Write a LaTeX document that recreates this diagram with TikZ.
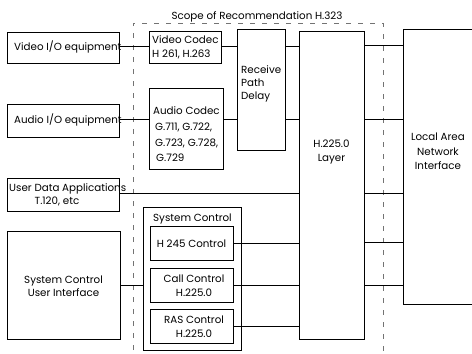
\documentclass[tikz,border=0pt]{standalone}
\usepackage{fontspec}
\setmainfont{Poppins}
\begin{document}
\begin{tikzpicture}[x=1pt,y=-1pt,
  box/.style={draw,line width=1pt,inner sep=0pt,minimum width=#1},
  conn/.style={line width=1pt},
  scope line/.style={draw=black!55,line width=0.5pt,dash pattern=on 5pt off 7pt},
  txt/.style={font=\fontsize{10.3}{12}\selectfont,inner sep=0pt},
  ltxt/.style={txt,anchor=base west},
  ctxt/.style={txt,anchor=base}]
\useasboundingbox (0,0) rectangle (472,354);
% scope of recommendation
\draw[scope line] (133,350) -- (133,23) -- (383,23) -- (383,354);
\node[ctxt] (scope) at (257,19) {Scope of Recommendation H.323};
% boxes
\node[box=112pt,minimum height=31pt] (vio) at (63,47.5) {};
\node[box=72pt,minimum height=32pt] (vcod) at (185,47) {};
\node[box=112pt,minimum height=33pt] (aio) at (63,120.5) {};
\node[box=74pt,minimum height=81pt] (acod) at (186,128.5) {};
\node[box=48pt,minimum height=121pt] (rpd) at (261,89.5) {};
\node[box=65pt,minimum height=308pt] (h225) at (331.5,185) {};
\node[box=77pt,minimum height=275pt] (lan) at (441.5,166.5) {};
\node[box=112pt,minimum height=33pt] (uda) at (63,194.5) {};
\node[box=98pt,minimum height=143pt] (sc) at (192,278.5) {};
\node[box=83pt,minimum height=34pt] (h245) at (191.5,243) {};
\node[box=83pt,minimum height=34pt] (call) at (191.5,285) {};
\node[box=83pt,minimum height=34pt] (ras) at (191.5,326) {};
\node[box=113pt,minimum height=108pt] (scui) at (63.5,285) {};
% texts
\node[ltxt] (tvio) at (14,50) {Video I/O equipment};
\node[ltxt] (tvc1) at (152,43.5) {Video Codec};
\node[ltxt] (tvc2) at (152,57) {H 261, H.263};
\node[ltxt] (taio) at (14,123) {Audio I/O equipment};
\node[ltxt] (tac1) at (153,114.5) {Audio Codec};
\node[ltxt] (tac2) at (155,130.5) {G.711, G.722,};
\node[ltxt] (tac3) at (155,146.5) {G.723, G.728,};
\node[ltxt] (tac4) at (156,161.5) {G.729};
\node[ltxt] (trp1) at (241,73.5) {Receive};
\node[ltxt] (trp2) at (241,86) {Path};
\node[ltxt] (trp3) at (241,99) {Delay};
\node[ctxt] (th1) at (331.5,147) {H.225.0};
\node[ctxt] (th2) at (331.5,161) {Layer};
\node[ctxt] (tl1) at (438,140) {Local Area};
\node[ctxt] (tl2) at (438,155) {Network};
\node[ctxt] (tl3) at (438,169) {Interface};
\node[ltxt] (tu1) at (9,191.5) {User Data Applications};
\node[ctxt] (tu2) at (57,204) {T.120, etc};
\node[ltxt] (tsc) at (153,221) {System Control};
\node[ctxt] (th245) at (191.5,247) {H 245 Control};
\node[ctxt] (tcc1) at (194,282.5) {Call Control};
\node[ctxt] (tcc2) at (194,296) {H.225.0};
\node[ctxt] (tra1) at (194,323.5) {RAS Control};
\node[ctxt] (tra2) at (194,337.5) {H.225.0};
\node[ctxt] (tsu1) at (63.5,283.5) {System Control};
\node[ctxt] (tsu2) at (63.5,296) {User Interface};
% connectors
\draw[conn] (vio.east |- 0,46) -- (vcod.west |- 0,46);
\draw[conn] (vcod.east |- 0,46) -- (rpd.west |- 0,46);
\draw[conn] (rpd.east |- 0,46) -- (h225.west |- 0,46);
\draw[conn] (aio.east |- 0,119) -- (acod.west |- 0,119);
\draw[conn] (acod.east |- 0,119) -- (rpd.west |- 0,119);
\draw[conn] (rpd.east |- 0,119) -- (h225.west |- 0,119);
\draw[conn] (uda.east |- 0,193) -- (h225.west |- 0,193);
\draw[conn] (scui.east |- 0,285) -- (sc.west |- 0,285);
\draw[conn] (h245.east |- 0,243) -- (h225.west |- 0,243);
\draw[conn] (call.east |- 0,285) -- (h225.west |- 0,285);
\draw[conn] (ras.east |- 0,326) -- (h225.west |- 0,326);
\foreach \yy/\nm in {45/a,119/b,193/c,242/d,285/e}
  \draw[conn] (h225.east |- 0,\yy) -- (lan.west |- 0,\yy);
\end{tikzpicture}
\end{document}
